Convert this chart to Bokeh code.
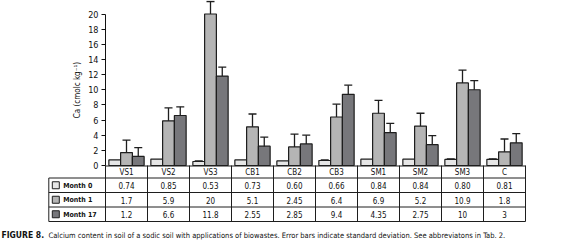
from bokeh.plotting import figure
from bokeh.models import (Range1d, LinearAxis, FixedTicker, Whisker, TeeHead,
                          ColumnDataSource, Label)
from bokeh.core.properties import value
from bokeh.embed import file_html
from bokeh.resources import INLINE

# ---------------- data ----------------
categories = ["VS1", "VS2", "VS3", "CB1", "CB2", "CB3", "SM1", "SM2", "SM3", "C"]
series_names = ["Month 0", "Month 1", "Month 17"]
month0_labels = ["0.74", "0.85", "0.53", "0.73", "0.60", "0.66", "0.84", "0.84", "0.80", "0.81"]
month1_labels = ["1.7", "5.9", "20", "5.1", "2.45", "6.4", "6.9", "5.2", "10.9", "1.8"]
month17_labels = ["1.2", "6.6", "11.8", "2.55", "2.85", "9.4", "4.35", "2.75", "10", "3"]
month0_err = [0, 0, 0.07, 0, 0, 0.07, 0, 0, 0.07, 0.07]
month1_err = [1.65, 1.7, 1.65, 1.7, 1.7, 1.7, 1.7, 1.7, 1.7, 1.7]
month17_err = [1.15, 1.15, 1.2, 1.2, 1.15, 1.2, 1.2, 1.2, 1.2, 1.2]
y_ticks = [0, 2, 4, 6, 8, 10, 12, 14, 16, 18, 20]
y_label = "Ca (cmolc kg⁻¹)"
caption_bold = "FIGURE 8."
caption_text = ("Calcium content in soil of a sodic soil with applications of biowastes. "
                "Error bars indicate standard deviation. See abbreviatons in Tab. 2.")

# ---------------- style / layout ----------------
FONT = "DejaVu Sans Condensed"
colors = ["#e6e6e6", "#b5b5b5", "#77777b"]
edge = "#1e1e1e"
W, H = 574, 246
CELL = 42.0          # px per category
AXIS_X = 105.0       # px from canvas left to y axis
BASE_Y = 165.0       # px from canvas top to baseline
SCALE = 7.575        # px per data unit (y)
n = len(categories)

labels_all = [month0_labels, month1_labels, month17_labels]
errs_all = [month0_err, month1_err, month17_err]
vals_all = [[float(s) for s in lab] for lab in labels_all]

def py(px_below):      # pixel distance below baseline -> data y
    return -px_below / SCALE

def px(pix_from_axis):  # pixel distance right of axis -> data x
    return pix_from_axis / CELL

p = figure(width=W, height=H,
           x_range=Range1d(-AXIS_X / CELL, (W - AXIS_X) / CELL),
           y_range=Range1d(-(H - BASE_Y) / SCALE, BASE_Y / SCALE),
           output_backend="svg", toolbar_location=None,
           x_axis_location=None, y_axis_location=None,
           min_border_left=0, min_border_right=0, min_border_top=0, min_border_bottom=0)
p.outline_line_color = None
p.grid.visible = False

yax = LinearAxis(ticker=FixedTicker(ticks=y_ticks), bounds=(0, 20), fixed_location=0)
yax.axis_label = y_label
yax.axis_label_text_font = FONT
yax.axis_label_text_font_style = "normal"
yax.axis_label_text_font_size = "8px"
yax.axis_label_standoff = 3
yax.major_label_text_font = FONT
yax.major_label_text_font_size = "9px"
yax.major_label_standoff = 3
yax.major_tick_in = 0
yax.major_tick_out = 4
yax.minor_tick_line_color = None
yax.axis_line_color = "#111111"
yax.major_tick_line_color = "#111111"
yax.major_label_text_color = "#111111"
yax.axis_label_text_color = "#111111"
p.add_layout(yax, "left")

# ---------------- bars + error bars ----------------
offsets = [-0.28, 0.0, 0.28]
for k in range(3):
    xs = [i + 0.5 + offsets[k] for i in range(n)]
    vals, errs = vals_all[k], errs_all[k]
    p.vbar(x=xs, top=vals, bottom=0, width=0.28,
           fill_color=colors[k], line_color=edge, line_width=1.2)
    keep = [i for i in range(n) if errs[i] > 0]
    src = ColumnDataSource(dict(x=[xs[i] for i in keep],
                                up=[vals[i] + errs[i] for i in keep],
                                lo=[vals[i] - errs[i] for i in keep]))
    p.add_layout(Whisker(base="x", upper="up", lower="lo", source=src,
                         line_color=edge, line_width=1.3,
                         upper_head=TeeHead(size=8, line_color=edge, line_width=1.3),
                         lower_head=TeeHead(size=8, line_color=edge, line_width=1.3)))

# ---------------- data table ----------------
header_h = 12.5
row_h = 14.5
row_edges = [0.5] + [header_h + j * row_h for j in range(4)]
legend_left = px(-56.7)
ys = [py(r) for r in row_edges]

p.segment(x0=[0] + [legend_left] * 4, y0=ys, x1=[n] * 5, y1=ys, line_color=edge, line_width=1)
vx = list(range(n + 1))
p.segment(x0=vx, y0=[0] * len(vx), x1=vx, y1=[ys[-1]] * len(vx), line_color=edge, line_width=1)
p.segment(x0=[legend_left], y0=[ys[1]], x1=[legend_left], y1=[ys[-1]], line_color=edge, line_width=1)

xc = [i + 0.5 for i in range(n)]
p.text(x=xc, y=[py((row_edges[0] + row_edges[1]) / 2 + 0.5)] * n, text=categories,
       text_align="center", text_baseline="middle", text_font=value(FONT),
       text_font_size="8px", text_color="#111111")
for k in range(3):
    mid = (row_edges[k + 1] + row_edges[k + 2]) / 2
    p.text(x=xc, y=[py(mid + 0.5)] * n, text=labels_all[k], text_align="center",
           text_baseline="middle", text_font=value(FONT), text_font_size="8px",
           text_color="#111111")
    p.rect(x=[px(-49.7)], y=[py(mid)], width=7, height=7,
           width_units="screen", height_units="screen",
           fill_color=colors[k], line_color=edge, line_width=1)
    p.text(x=[px(-42.3)], y=[py(mid + 0.5)], text=[series_names[k]], text_align="left",
           text_baseline="middle", text_font=value(FONT), text_font_size="7px",
           text_font_style="bold", text_color="#111111")

# ---------------- caption ----------------
cap_y = py(69.5)
p.add_layout(Label(x=1, y=cap_y, x_units="screen", y_units="data", text=caption_bold,
                   text_font=FONT, text_font_size="8.5px", text_font_style="bold",
                   text_baseline="middle", text_color="#111111"))
p.add_layout(Label(x=48, y=cap_y, x_units="screen", y_units="data", text=caption_text,
                   text_font=FONT, text_font_size="7.5px",
                   text_baseline="middle", text_color="#111111"))

open("out.html", "w").write(file_html(p, INLINE))
